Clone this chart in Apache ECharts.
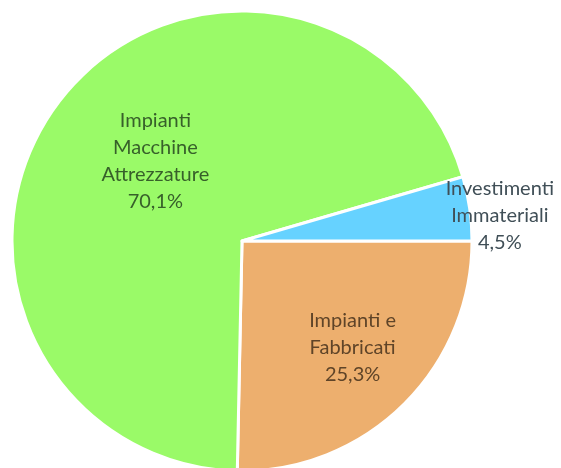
<!DOCTYPE html>
<html>
<head>
<meta charset="utf-8">
<script src="https://cdn.jsdelivr.net/npm/echarts@6/dist/echarts.min.js"></script>
<style>
  html, body { margin: 0; padding: 0; background: #fff; }
  #pie1 { width: 561px; height: 468px; }
</style>
</head>
<body>
<div id="pie1"></div>
<script>
// categories, clockwise from 3 o'clock
var categories = ['Impianti e\nFabbricati', 'Impianti\nMacchine\nAttrezzature', 'Investimenti\nImmateriali'];
var values = [25.3, 70.1, 4.5];
var colors = ['#edaf6e', '#9afa68', '#66d2ff'];
var labelColors = ['#5f4428', '#37602a', '#404f57'];
// label nudges away from default inside position
var labelShift = [[28, 22], [7, -8], [141, -9]];

var myChart = echarts.init(document.getElementById('pie1'));

var option = {
    backgroundColor: '#fff',
    animation: false,
    series: [
        {
            type: 'pie',
            center: [242, 241],
            radius: 230,
            startAngle: 0,
            clockwise: true,
            itemStyle: {
                borderColor: '#fff',
                borderWidth: 3
            },
            label: {
                show: true,
                position: 'inside',
                fontFamily: 'Lato',
                fontSize: 20,
                lineHeight: 27,
                align: 'center',
                formatter: function (p) {
                    return p.name + '\n' + p.value.toFixed(1).replace('.', ',') + '%';
                }
            },
            labelLayout: function (p) {
                var s = labelShift[p.dataIndex];
                return { dx: s[0], dy: s[1] };
            },
            emphasis: { disabled: true },
            data: categories.map(function (c, i) {
                return {
                    name: c,
                    value: values[i],
                    itemStyle: { color: colors[i] },
                    label: { color: labelColors[i] }
                };
            })
        }
    ]
};

myChart.setOption(option);
window.onresize = myChart.resize;
</script>
</body>
</html>
